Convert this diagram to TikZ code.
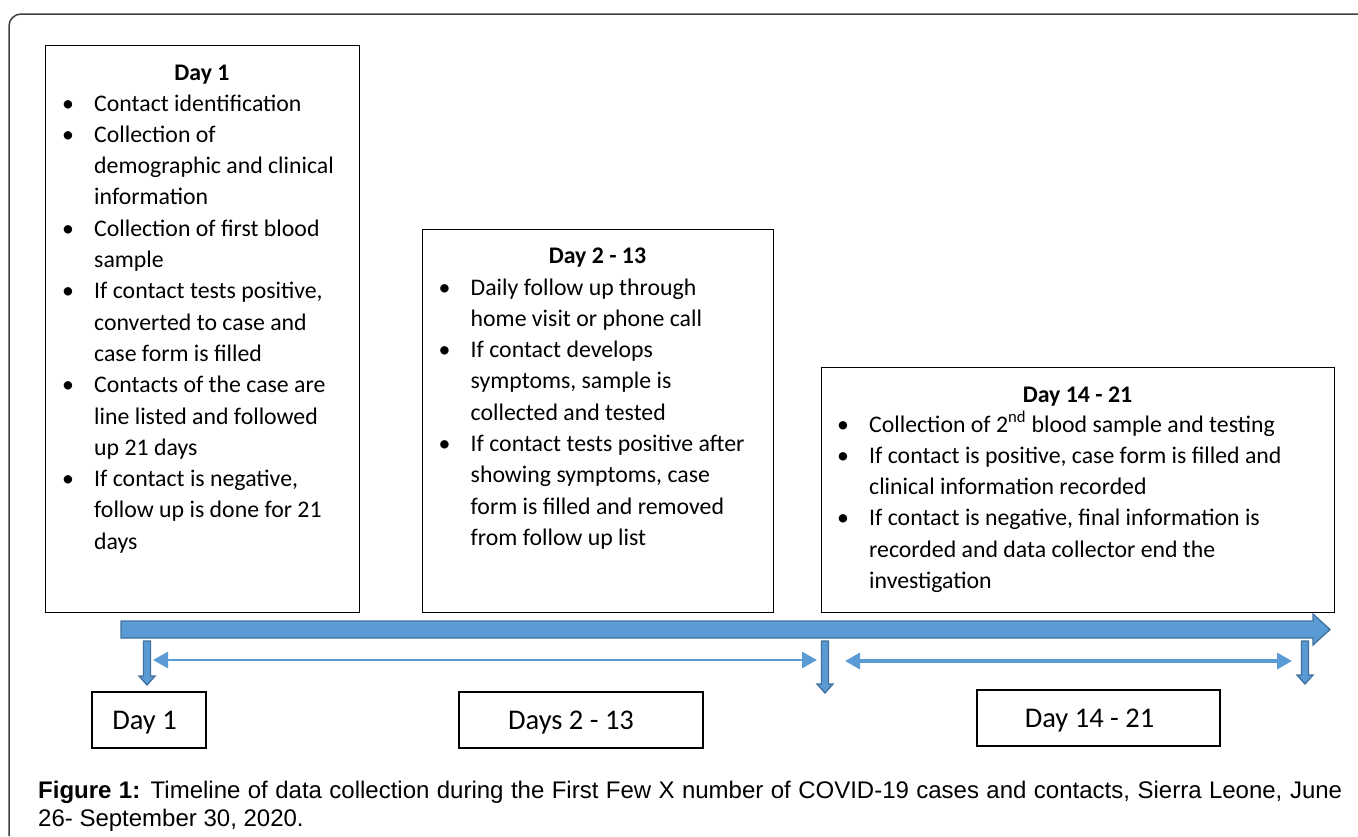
\documentclass[tikz,border=0pt]{standalone}
\usepackage{fontspec}
\setmainfont{Carlito}
\newfontfamily\capfont{Liberation Sans}
\usetikzlibrary{arrows.meta}
\definecolor{tlfill}{HTML}{5B9BD5}
\definecolor{tledge}{HTML}{41719C}
\definecolor{framegray}{HTML}{404040}
\newcommand{\bi}{\makebox[32pt][l]{\textbullet}}
\newcommand{\boxfont}{\fontsize{23.8}{31.3}\selectfont}
\newcommand{\labfont}{\fontsize{28.5}{34}\selectfont}
\newcommand{\labtext}[1]{\raisebox{-9pt}[0pt][0pt]{#1}}
\newcommand{\dnarrow}[3]{%
  \filldraw[blockarrow] ({#1-3.5},641) -- ({#1+3.5},641) -- ({#1+3.5},{#2-9}) -- ({#1+8},{#2-9})
    -- (#1,#2) -- ({#1-8},{#2-9}) -- ({#1-3.5},{#2-9}) -- cycle;
  \coordinate (#3) at (#1,#2);}
\begin{document}
\begin{tikzpicture}[x=1pt,y=-1pt,
  daybox/.style={draw=black, line width=1.2pt, fill=white},
  title/.style={font=\boxfont\bfseries, inner sep=0pt, anchor=base},
  list/.style={font=\boxfont, inner sep=0pt, anchor=base west},
  labbox/.style={draw=black, line width=1.2pt, font=\labfont, inner sep=0pt},
  blockarrow/.style={fill=tlfill, draw=tledge, line width=1.3pt},
  span/.style={draw=tlfill, line width=2.6pt, {Triangle[length=15pt,width=16pt]}-{Triangle[length=15pt,width=16pt]}}]
\useasboundingbox (0,0) rectangle (1358,836);
\fill[white] (0,0) rectangle (1358,836);
% outer frame
\draw[framegray, line width=1.5pt, rounded corners=12pt] (9,836) -- (9,14) -- (1358,14);

% Box 1
\node[daybox, anchor=north west, minimum width=314pt, minimum height=567pt] (b1) at (45,45) {};
\node[title] (t1) at (202,80) {Day 1};
\node[list] (l1) at (62,111) {\begin{tabular}[t]{@{}l@{}l@{}}
\bi & Contact identification\\
\bi & Collection of\\
 & demographic and clinical\\
 & information\\
\bi & Collection of first blood\\
 & sample\\
\bi & If contact tests positive,\\
 & converted to case and\\
 & case form is filled\\
\bi & Contacts of the case are\\
 & line listed and followed\\
 & up 21 days\\
\bi & If contact is negative,\\
 & follow up is done for 21\\
 & days
\end{tabular}};

% Box 2
\node[daybox, anchor=north west, minimum width=351pt, minimum height=383pt] (b2) at (422,229) {};
\node[title] (t2) at (597.5,263) {Day 2 - 13};
\node[list] (l2) at (438.5,295) {\begin{tabular}[t]{@{}l@{}l@{}}
\bi & Daily follow up through\\
 & home visit or phone call\\
\bi & If contact develops\\
 & symptoms, sample is\\
 & collected and tested\\
\bi & If contact tests positive after\\
 & showing symptoms, case\\
 & form is filled and removed\\
 & from follow up list
\end{tabular}};

% Box 3
\node[daybox, anchor=north west, minimum width=513pt, minimum height=245pt] (b3) at (821,367) {};
\node[title] (t3) at (1077.5,402) {Day 14 - 21};
\node[list] (l3) at (837,432) {\begin{tabular}[t]{@{}l@{}l@{}}
\bi & Collection of 2\textsuperscript{nd} blood sample and testing\\
\bi & If contact is positive, case form is filled and\\
 & clinical information recorded\\
\bi & If contact is negative, final information is\\
 & recorded and data collector end the\\
 & investigation
\end{tabular}};

% main timeline arrow
\coordinate (tlstart) at (121,629.5);
\coordinate (tlend) at (1330,629.5);
\filldraw[blockarrow] (121,621) -- (1313,621) -- (1313,614) -- (tlend) -- (1313,645) -- (1313,638) -- (121,638) -- cycle;

% down markers
\dnarrow{147}{685}{m1}
\dnarrow{825}{693}{m2}
\dnarrow{1305}{684}{m3}

% span arrows
\coordinate (s1a) at (153,660);
\coordinate (s1b) at (817,660);
\coordinate (s2a) at (845,661);
\coordinate (s2b) at (1292,661);
\draw[span] (s1a) -- (s1b);
\draw[span, line width=3.4pt] (s2a) -- (s2b);

% bottom labels
\node[labbox, minimum width=114pt, minimum height=56pt] (d1) at (149,720) {\labtext{Day 1}\kern9pt};
\node[labbox, minimum width=244pt, minimum height=56pt] (d2) at (581,720) {\labtext{Days 2 - 13}\kern20pt};
\node[labbox, minimum width=243pt, minimum height=56pt] (d3) at (1098.5,718) {\labtext{Day 14 - 21}\kern18pt};

% caption
\node[inner sep=0pt, anchor=base west, font=\capfont\fontsize{24}{28}\selectfont] (cap) at (38,798)
 {\begin{tabular}[t]{@{}p{1304pt}@{}}
 \textbf{Figure 1:} Timeline of data collection during the First Few X number of COVID-19 cases and contacts, Sierra Leone, June\linebreak 26- September 30, 2020.
 \end{tabular}};
\end{tikzpicture}
\end{document}
